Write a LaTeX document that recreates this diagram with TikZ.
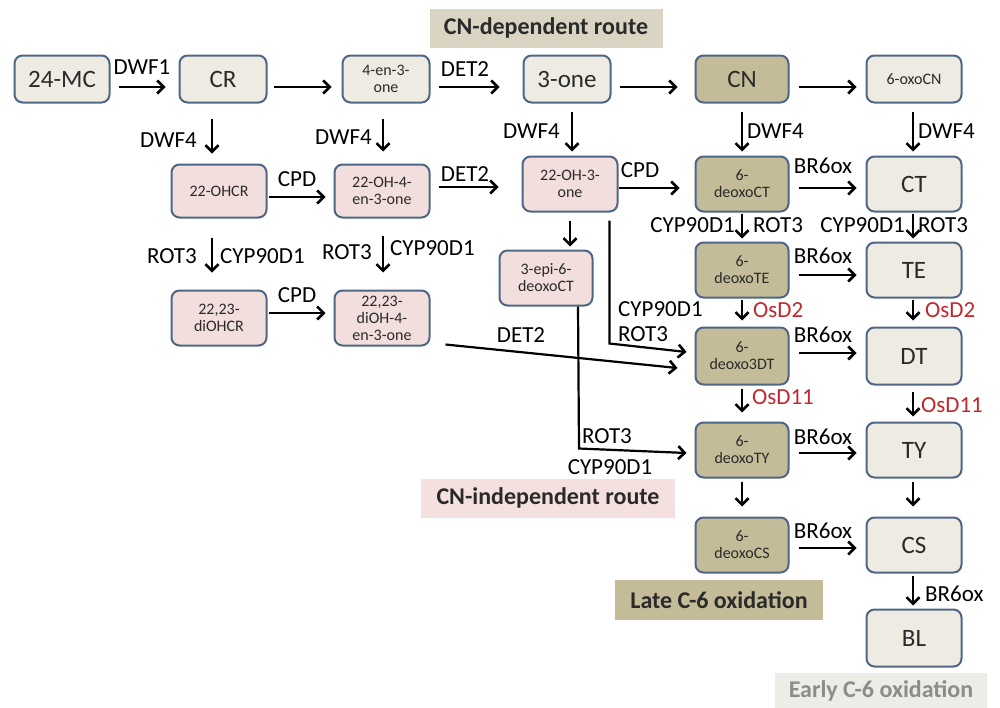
\documentclass[tikz,border=0pt]{standalone}
\usepackage{fontspec}
\setmainfont{Carlito}
\usetikzlibrary{calc,arrows.meta}
\definecolor{beigef}{HTML}{EEEBE3}
\definecolor{tanf}{HTML}{C4BC98}
\definecolor{pinkf}{HTML}{F2DEDC}
\definecolor{bord}{HTML}{4F6785}
\definecolor{redt}{HTML}{C0282D}
\definecolor{titlebg}{HTML}{DAD5C3}
\definecolor{indepbg}{HTML}{F4E0DF}
\definecolor{earlybg}{HTML}{EEECE6}
\definecolor{earlytxt}{HTML}{8C8C8C}
\definecolor{ntext}{HTML}{2A2A2A}
\begin{document}
\begin{tikzpicture}[x=1pt,y=-1pt,
  nb/.style={draw=bord, line width=2pt, rounded corners=8pt, align=center,
    inner sep=1pt, text=ntext, minimum width=93pt, minimum height=50pt},
  bg/.style={nb, fill=beigef},
  tn/.style={nb, fill=tanf},
  pk/.style={nb, fill=pinkf},
  big/.style={font=\fontsize{25}{28}\selectfont},
  sml/.style={font=\fontsize{16}{17}\selectfont},
  lab/.style={font=\fontsize{23}{25}\selectfont, inner sep=0pt},
  red/.style={lab, text=redt},
  arr/.style={-{Straight Barb[length=6.5pt,width=13pt,line width=2.6pt]}, line width=2.2pt},
  ttl/.style={font=\fontsize{24}{26}\selectfont\bfseries, inner sep=0pt, text=ntext}
]
\useasboundingbox (0,0) rectangle (1000,707);
\fill[white] (0,0) rectangle (1000,707);

% title boxes
\node[ttl, fill=titlebg, minimum width=233pt, minimum height=39pt] (t1) at (546,28) {CN-dependent route};
\node[ttl, fill=indepbg, minimum width=254pt, minimum height=39pt] (t2) at (548,498) {CN-independent route};
\node[ttl, fill=tanf, minimum width=208pt, minimum height=40pt] (t3) at (719,600) {Late C-6 oxidation};
\node[ttl, fill=earlybg, text=earlytxt, minimum width=212pt, minimum height=36pt] (t4) at (881,691) {Early C-6 oxidation};

% row 1
\node[bg,big,minimum width=95pt,minimum height=47pt] (mc) at (62,79) {24-MC};
\node[bg,big,minimum width=87pt,minimum height=47pt] (cr) at (223,79) {CR};
\node[bg,sml,minimum width=87pt,minimum height=47pt] (enone) at (386,79) {4-en-3-\\one};
\node[bg,big,minimum width=87pt,minimum height=47pt] (three) at (567,79) {3-one};
\node[tn,big,minimum width=93pt,minimum height=47pt] (cn) at (742,79) {CN};
\node[bg,sml,minimum width=95pt,minimum height=47pt] (oxocn) at (914,79) {6-oxoCN};
% row 2
\node[pk,sml,minimum width=95pt,minimum height=53pt] (ohcr) at (219,191) {22-OHCR};
\node[pk,sml,minimum width=95pt,minimum height=53pt] (ohen) at (382,191) {22-OH-4-\\en-3-one};
\node[pk,sml,minimum width=95pt,minimum height=55pt] (ohthree) at (570,184) {22-OH-3-\\one};
\node[tn,sml,minimum width=93pt,minimum height=55pt] (dct) at (742,184) {6-\\deoxoCT};
\node[bg,big,minimum width=95pt,minimum height=55pt] (ct) at (914,184) {CT};
% row 3
\node[pk,sml,minimum width=95pt,minimum height=55pt] (diohcr) at (219,318) {22,23-\\diOHCR};
\node[pk,sml,minimum width=95pt,minimum height=55pt] (dioh) at (382,318) {22,23-\\diOH-4-\\en-3-one};
\node[pk,sml,minimum width=93pt,minimum height=55pt] (epi) at (546,278) {3-epi-6-\\deoxoCT};
\node[tn,sml,minimum width=93pt,minimum height=55pt] (dte) at (742,270) {6-\\deoxoTE};
\node[bg,big,minimum width=95pt,minimum height=55pt] (te) at (914,270) {TE};
% row 4
\node[tn,sml,minimum width=93pt,minimum height=57pt] (ddt) at (742,356) {6-\\deoxo3DT};
\node[bg,big,minimum width=95pt,minimum height=57pt] (dt) at (914,356) {DT};
% row 5
\node[tn,sml,minimum width=93pt,minimum height=55pt] (dty) at (742,450) {6-\\deoxoTY};
\node[bg,big,minimum width=95pt,minimum height=55pt] (ty) at (914,450) {TY};
% row 6
\node[tn,sml,minimum width=93pt,minimum height=55pt] (dcs) at (742,545) {6-\\deoxoCS};
\node[bg,big,minimum width=95pt,minimum height=55pt] (cs) at (914,545) {CS};
% row 7
\node[bg,big,minimum width=95pt,minimum height=57pt] (bl) at (914,638) {BL};

% horizontal arrows
\draw[arr] ($(mc.east)+(8,8)$) -- ($(cr.west)+(-13,8)$);
\draw[arr] ($(cr.east)+(6,8)$) -- ($(enone.west)+(-10,8)$);
\draw[arr] ($(enone.east)+(8,8)$) -- ($(three.west)+(-23,8)$);
\draw[arr] ($(three.east)+(8,8)$) -- ($(cn.west)+(-17,8)$);
\draw[arr] ($(cn.east)+(9,8)$) -- ($(oxocn.west)+(-9,8)$);
\draw[arr] ($(ohcr.east)+(1,6)$) -- ($(ohen.west)+(-8,6)$);
\draw[arr] ($(ohen.east)+(8,-4)$) -- ($(ohthree.west)+(-23,3)$);
\draw[arr] ($(ohthree.east)+(0,4)$) -- ($(dct.west)+(-15,4)$);
\draw[arr] ($(dct.east)+(9,4)$) -- ($(ct.west)+(-9,4)$);
\draw[arr] ($(diohcr.east)+(1,-5)$) -- ($(dioh.west)+(-8,-5)$);
\draw[arr] ($(dte.east)+(9,5)$) -- ($(te.west)+(-9,5)$);
\draw[arr] ($(ddt.east)+(9,-3)$) -- ($(dt.west)+(-9,-3)$);
\draw[arr] ($(dty.east)+(9,3)$) -- ($(ty.west)+(-9,3)$);
\draw[arr] ($(dcs.east)+(9,3)$) -- ($(cs.west)+(-9,3)$);

% vertical arrows
\draw[arr] ($(cr.south)+(-11,15)$) -- ($(ohcr.north)+(-7,-10)$);
\draw[arr] ($(enone.south)+(-3,15)$) -- ($(ohen.north)+(1,-12)$);
\draw[arr] ($(three.south)+(5,8)$) -- ($(ohthree.north)+(2,-4)$);
\draw[arr] ($(cn.south)+(0,8)$) -- ($(dct.north)+(0,-4)$);
\draw[arr] ($(oxocn.south)+(-1,8)$) -- ($(ct.north)+(-1,-4)$);
\draw[arr] ($(ohcr.south)+(-7,19)$) -- ($(diohcr.north)+(-7,-17)$);
\draw[arr] ($(ohen.south)+(1,17)$) -- ($(dioh.north)+(1,-17)$);
\draw[arr] ($(ohthree.south)+(0,8)$) -- ($(epi.north)+(24,-3)$);
\draw[arr] ($(dct.south)+(0,1)$) -- ($(dte.north)+(0,-3)$);
\draw[arr] ($(ct.south)+(-1,1)$) -- ($(te.north)+(-1,-3)$);
\draw[arr] ($(dte.south)+(0,1)$) -- ($(ddt.north)+(0,-6)$);
\draw[arr] ($(te.south)+(-1,1)$) -- ($(dt.north)+(-1,-6)$);
\draw[arr] ($(ddt.south)+(0,3)$) -- ($(dty.north)+(0,-9)$);
\draw[arr] ($(dt.south)+(-1,6)$) -- ($(ty.north)+(-1,-5)$);
\draw[arr] ($(dty.south)+(0,3)$) -- ($(dcs.north)+(0,-10)$);
\draw[arr] ($(ty.south)+(-1,3)$) -- ($(cs.north)+(-1,-10)$);
\draw[arr] ($(cs.south)+(-1,2)$) -- ($(bl.north)+(-1,-3)$);

% bent / long connectors
\draw[arr] ($(ohthree.south east)+(-9,8)$) -- ++(0,123) -- ($(ddt.west)+(-8,-4)$);
\draw[arr] ($(dioh.south east)+(15,-2)$) -- ($(ddt.west)+(-17,12)$);
\draw[arr] ($(epi.south)+(32,0)$) -- ++(1,142) -- ($(dty.west)+(-8,3)$);

% labels
\node[lab] (l1) at (142,67) {DWF1};
\node[lab] (l2) at (465,69) {DET2};
\node[lab,anchor=east] (l3) at (197,140) {DWF4};
\node[lab,anchor=east] (l4) at (372,137) {DWF4};
\node[lab,anchor=east] (l5) at (560,131) {DWF4};
\node[lab,anchor=west] (l6) at (747,131) {DWF4};
\node[lab,anchor=west] (l7) at (918,131) {DWF4};
\node[lab] (l8) at (297,179) {CPD};
\node[lab] (l9) at (465,174) {DET2};
\node[lab] (l10) at (640,170) {CPD};
\node[lab] (l11) at (823,166) {BR6ox};
\node[lab,anchor=east] (l12) at (197,256) {ROT3};
\node[lab,anchor=west] (l13) at (220,256) {CYP90D1};
\node[lab,anchor=east] (l14) at (372,252) {ROT3};
\node[lab,anchor=west] (l15) at (390,248) {CYP90D1};
\node[lab,anchor=east] (l16) at (735,225) {CYP90D1};
\node[lab,anchor=west] (l17) at (753,225) {ROT3};
\node[lab,anchor=east] (l18) at (905,225) {CYP90D1};
\node[lab,anchor=west] (l19) at (918,225) {ROT3};
\node[lab] (l20) at (297,295) {CPD};
\node[lab] (l21) at (823,256) {BR6ox};
\node[red,anchor=west] (l22) at (753,310) {OsD2};
\node[red,anchor=west] (l23) at (925,310) {OsD2};
\node[lab,anchor=west] (l24) at (618,309) {CYP90D1};
\node[lab,anchor=west] (l25) at (618,334) {ROT3};
\node[lab] (l26) at (521,335) {DET2};
\node[lab] (l27) at (823,335) {BR6ox};
\node[red,anchor=west] (l28) at (752,397) {OsD11};
\node[red,anchor=west] (l29) at (921,405) {OsD11};
\node[lab] (l30) at (607,436) {ROT3};
\node[lab] (l31) at (610,467) {CYP90D1};
\node[lab] (l32) at (823,437) {BR6ox};
\node[lab] (l33) at (823,531) {BR6ox};
\node[lab,anchor=west] (l34) at (925,594) {BR6ox};
\end{tikzpicture}
\end{document}
